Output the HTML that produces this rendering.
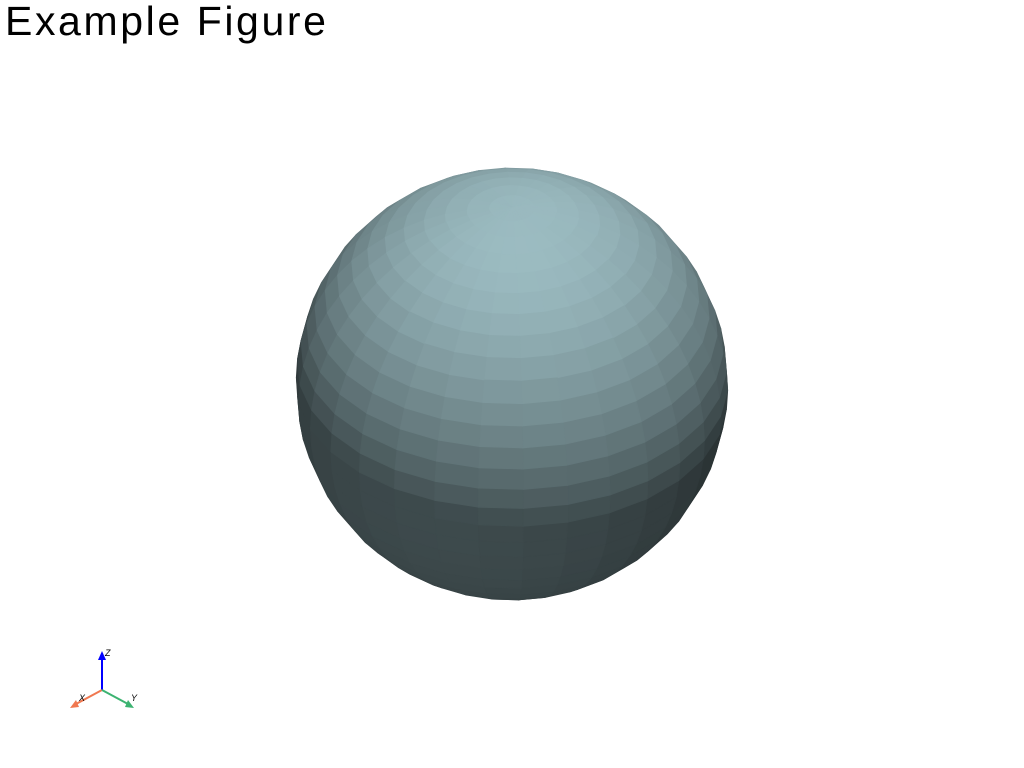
<!DOCTYPE html>
<html><head><meta charset="utf-8"><style>
html,body{margin:0;padding:0;background:#fff;width:1024px;height:768px;overflow:hidden}
#title{position:absolute;left:5px;top:-2px;font-family:"Liberation Sans",sans-serif;font-size:41px;font-weight:normal;color:#000;letter-spacing:2.6px}
svg{position:absolute;left:0;top:0}
</style></head><body>
<div id="title">Example Figure</div>
<svg id="s" width="1024" height="768">
<g id="sphere"></g>
<g>
<line x1="102" y1="690" x2="102" y2="658" stroke="#0000ff" stroke-width="2"/>
<polygon points="98,660 106,660 102,651" fill="#0000ff"/>
<text x="105" y="656" font-family="Liberation Sans,sans-serif" font-style="italic" font-size="9">Z</text>
<line x1="102" y1="690" x2="76" y2="704" stroke="#f07850" stroke-width="2"/>
<polygon points="70,708 76,700 79,707" fill="#f07850"/>
<text x="79" y="701" font-family="Liberation Sans,sans-serif" font-style="italic" font-size="9">X</text>
<line x1="102" y1="690" x2="128" y2="704" stroke="#3cb371" stroke-width="2"/>
<polygon points="134,708 125,707 128,700" fill="#3cb371"/>
<text x="131" y="701" font-family="Liberation Sans,sans-serif" font-style="italic" font-size="9">Y</text>
</g>
</svg>
<script>
const thetaRes = 30;
const phiRes = 30;
const radius = 216;
const center = [512, 384];
const base = [166, 200, 206];
const g = document.getElementById('sphere');
const R = [-1/Math.SQRT2, 1/Math.SQRT2, 0];
const U = [-1/Math.sqrt(6), -1/Math.sqrt(6), 2/Math.sqrt(6)];
const F = [1/Math.sqrt(3), 1/Math.sqrt(3), 1/Math.sqrt(3)];
const dot=(a,b)=>a[0]*b[0]+a[1]*b[1]+a[2]*b[2];
const norm=v=>{const l=Math.hypot(...v);return v.map(x=>x/l);};
const L=norm([0.1,0.75,0.65]);
const L2=norm([-0.3,-0.6,0.7]);
function P(phi,th){return [Math.sin(phi)*Math.cos(th),Math.sin(phi)*Math.sin(th),Math.cos(phi)];}
function V(p){return [dot(p,R),dot(p,U),dot(p,F)];}
const faces=[];
for(let i=0;i<phiRes;i++){for(let j=0;j<thetaRes;j++){
 const p0=i*Math.PI/phiRes,p1=(i+1)*Math.PI/phiRes,t0=j*2*Math.PI/thetaRes,t1=(j+1)*2*Math.PI/thetaRes;
 const pts=[P(p0,t0),P(p0,t1),P(p1,t1),P(p1,t0)].map(V);
 const c=V(P((p0+p1)/2,(t0+t1)/2));
 if(c[2]<-0.05)continue;
 faces.push({pts,c});
}}
faces.sort((a,b)=>a.c[2]-b.c[2]);
for(const f of faces){
 const n=f.c;
 const d=Math.max(0,dot(n,L));
 const d2=Math.max(0,dot(n,L2));
 const k=0.25+0.68*d+0.12*d2;
 const col='rgb('+base.map(v=>Math.round(Math.min(255,v*k))).join(',')+')';
 const poly=document.createElementNS('http://www.w3.org/2000/svg','polygon');
 poly.setAttribute('points',f.pts.map(p=>(center[0]+p[0]*radius).toFixed(1)+','+(center[1]-p[1]*radius).toFixed(1)).join(' '));
 poly.setAttribute('fill',col);poly.setAttribute('stroke',col);poly.setAttribute('stroke-width','0.8');
 
 
 g.appendChild(poly);
}
</script>
</body></html>
